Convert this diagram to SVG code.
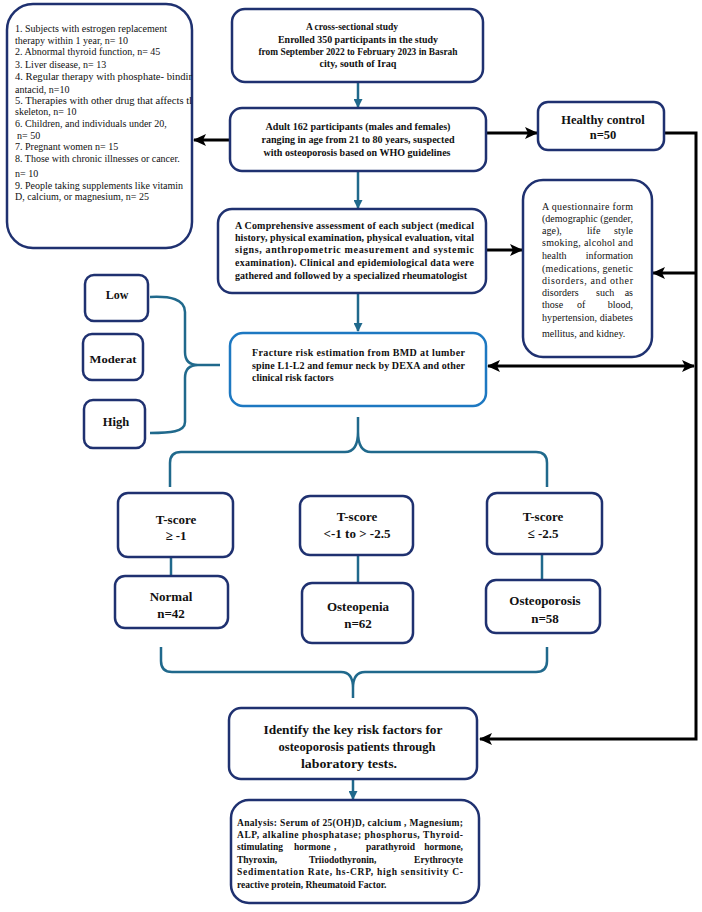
<svg xmlns="http://www.w3.org/2000/svg" width="702" height="912" viewBox="0 0 702 912">
<defs>
<style>
.box{fill:#fff;stroke:#1f3170;stroke-width:2.5}
.fbox{fill:#fff;stroke:#1d78c1;stroke-width:2.5}
.t{font-family:"Liberation Serif","Times New Roman",serif;fill:#111}
.b{font-weight:bold}
.c{text-anchor:middle}
.e{text-anchor:end}
.s10{font-size:10px}
.s95{font-size:9.5px}
.s13{font-size:13px}
.blk{fill:none;stroke:#000;stroke-width:3}
.teal{fill:none;stroke:#20698c;stroke-width:2.5}
</style>
<marker id="ab" markerUnits="userSpaceOnUse" markerWidth="13" markerHeight="12" refX="12" refY="6" orient="auto-start-reverse" viewBox="0 0 13 12">
<path d="M0,0 L13,6 L0,12 L3,6 z" fill="#000"/>
</marker>
<marker id="at" markerUnits="userSpaceOnUse" markerWidth="9" markerHeight="9" refX="8" refY="4.5" orient="auto" viewBox="0 0 9 9">
<path d="M0,0 L9,4.5 L0,9 z" fill="#20698c"/>
</marker>
</defs>
<rect width="702" height="912" fill="#fff"/>

<g id="connectors">
<line class="teal" x1="358" y1="82" x2="358" y2="107" marker-end="url(#at)"/>
<line class="teal" x1="358" y1="171" x2="358" y2="208" marker-end="url(#at)"/>
<line class="teal" x1="358" y1="293" x2="358" y2="331" marker-end="url(#at)"/>
<line class="teal" x1="353" y1="779" x2="353" y2="799" marker-end="url(#at)"/>
<line class="teal" x1="171" y1="557" x2="171" y2="576"/>
<line class="teal" x1="358" y1="555" x2="358" y2="583"/>
<line class="teal" x1="542" y1="554" x2="542" y2="580"/>
<path class="teal" d="M150,297 C170,296 185,299 185,312 V352 Q185,365 198,365 H220 M198,365 Q185,365 185,378 V422 C185,432 170,433 150,433"/>
<path class="teal" d="M170,487 V463 Q170,452 181,452 H345 Q358,452 358,432 V417 M358,432 Q358,452 371,452 H536 Q547,452 547,463 V487"/>
<path class="teal" d="M161,647 V661 Q161,672 172,672 H341 Q353,672 353,688 V698 M353,688 Q353,672 365,672 H536 Q547,672 547,661 V647"/>
<line class="blk" x1="230" y1="140" x2="194" y2="140" marker-end="url(#ab)"/>
<line class="blk" x1="486" y1="133" x2="537" y2="133" marker-end="url(#ab)"/>
<line class="blk" x1="486" y1="250" x2="522" y2="250" marker-end="url(#ab)"/>
<path class="blk" d="M664,133 H696 V739 H480" marker-end="url(#ab)"/>
<line class="blk" x1="696" y1="273" x2="653" y2="273" marker-end="url(#ab)"/>
<line class="blk" x1="488" y1="366" x2="694" y2="366" marker-start="url(#ab)" marker-end="url(#ab)"/>
</g>

<g id="exclusion">
<rect class="box" x="7" y="4" width="185" height="244" rx="26"/>
<text class="t s10" x="15" y="31.8" textLength="152" lengthAdjust="spacingAndGlyphs">1. Subjects with estrogen replacement</text>
<text class="t s10" x="15" y="43.5">therapy within 1 year, n= 10</text>
<text class="t s10" x="15" y="55.2">2. Abnormal thyroid function, n= 45</text>
<text class="t s10" x="15" y="67.8">3. Liver disease, n= 13</text>
<text class="t s10" x="15" y="80.2" textLength="177" lengthAdjust="spacingAndGlyphs">4. Regular therapy with phosphate- bindir</text>
<text class="t s10" x="15" y="92.8">antacid, n=10</text>
<text class="t s10" x="15" y="103.5" textLength="177" lengthAdjust="spacingAndGlyphs">5. Therapies with other drug that affects tl</text>
<text class="t s10" x="15" y="114.5">skeleton, n= 10</text>
<text class="t s10" x="15" y="126.8">6. Children, and individuals under 20,</text>
<text class="t s10" x="17" y="138.5">n= 50</text>
<text class="t s10" x="15" y="150.2">7. Pregnant women n= 15</text>
<text class="t s10" x="15" y="161.8">8. Those with chronic illnesses or cancer.</text>
<text class="t s10" x="15" y="176.8">n= 10</text>
<text class="t s10" x="15" y="188.5" textLength="168" lengthAdjust="spacingAndGlyphs">9. People taking supplements like vitamin</text>
<text class="t s10" x="15" y="200.2">D, calcium, or magnesium, n= 25</text>
</g>

<g id="study">
<rect class="box" x="232" y="9" width="251" height="73" rx="13"/>
<text class="t b c" x="352" y="30" font-size="9.5">A cross-sectional study</text>
<text class="t b s10 c" x="358" y="42.5" textLength="160" lengthAdjust="spacingAndGlyphs">Enrolled 350 participants in the study</text>
<text class="t b s10 c" x="358" y="55" textLength="199" lengthAdjust="spacingAndGlyphs">from September 2022 to February 2023 in Basrah</text>
<text class="t b s10 c" x="358" y="67" textLength="77" lengthAdjust="spacingAndGlyphs">city, south of Iraq</text>
</g>

<g id="adult">
<rect class="box" x="230" y="108" width="256" height="63" rx="12"/>
<text class="t b s10 c" x="358" y="130" textLength="185" lengthAdjust="spacingAndGlyphs">Adult 162 participants (males and females)</text>
<text class="t b s10 c" x="358" y="143" textLength="193" lengthAdjust="spacingAndGlyphs">ranging in age from 21 to 80 years, suspected</text>
<text class="t b s10 c" x="357" y="155.5" textLength="187" lengthAdjust="spacingAndGlyphs">with osteoporosis based on WHO guidelines</text>
</g>

<g id="healthy">
<rect class="box" x="538" y="102" width="126" height="48" rx="10"/>
<text class="t b c" x="603" y="124" font-size="12.5">Healthy control</text>
<text class="t b c" x="603" y="139" font-size="12.5">n=50</text>
</g>

<g id="assessment">
<rect class="box" x="218" y="209" width="268" height="84" rx="14"/>
<text class="t b s10" x="235" y="228.5" textLength="239" lengthAdjust="spacing">A Comprehensive assessment of each subject (medical</text>
<text class="t b s10" x="235" y="240.5" textLength="239" lengthAdjust="spacing">history, physical examination, physical evaluation, vital</text>
<text class="t b s10" x="235" y="252.5" textLength="239" lengthAdjust="spacing">signs, anthropometric measurement and systemic</text>
<text class="t b s10" x="235" y="265.5" textLength="239" lengthAdjust="spacing">examination). Clinical and epidemiological data were</text>
<text class="t b s10" x="235" y="278.5" textLength="232" lengthAdjust="spacing">gathered and followed by a specialized rheumatologist</text>
</g>

<g id="questionnaire">
<rect class="box" x="523" y="180" width="129" height="177" rx="20"/>
<text class="t s10" x="542" y="209.5" textLength="91" lengthAdjust="spacing">A questionnaire form</text>
<text class="t s10" x="542" y="221.5" textLength="91" lengthAdjust="spacing">(demographic (gender,</text>
<text class="t s10" x="542" y="233.5">age),</text>
<text class="t s10" x="587" y="233.5">life</text>
<text class="t s10 e" x="633" y="233.5">style</text>
<text class="t s10" x="542" y="245.5" textLength="91" lengthAdjust="spacing">smoking, alcohol and</text>
<text class="t s10" x="542" y="258.5">health</text>
<text class="t s10 e" x="633" y="258.5">information</text>
<text class="t s10" x="542" y="271.5" textLength="91" lengthAdjust="spacing">(medications, genetic</text>
<text class="t s10" x="542" y="283.5" textLength="91" lengthAdjust="spacing">disorders, and other</text>
<text class="t s10" x="542" y="295.5">disorders</text>
<text class="t s10" x="596" y="295.5">such</text>
<text class="t s10 e" x="633" y="295.5">as</text>
<text class="t s10" x="542" y="307.5">those</text>
<text class="t s10" x="577" y="307.5">of</text>
<text class="t s10 e" x="633" y="307.5">blood,</text>
<text class="t s10" x="542" y="320.5" textLength="91" lengthAdjust="spacing">hypertension, diabetes</text>
<text class="t s10" x="542" y="336.5">mellitus, and kidney.</text>
</g>

<g id="fracture">
<rect class="fbox" x="230" y="333" width="256" height="73" rx="13"/>
<text class="t b s10" x="252" y="355.5" textLength="213" lengthAdjust="spacing">Fracture risk estimation from BMD at lumber</text>
<text class="t b s10" x="252" y="368.5" textLength="213" lengthAdjust="spacing">spine L1-L2 and femur neck by DEXA and other</text>
<text class="t b s10" x="252" y="380.5">clinical risk factors</text>
</g>

<g id="low">
<rect class="box" x="85" y="275" width="63" height="46" rx="9"/>
<text class="t b c" x="117" y="299" font-size="12">Low</text>
</g>
<g id="moderat">
<rect class="box" x="83" y="334" width="60" height="46" rx="9"/>
<text class="t b c" x="113" y="363" font-size="11" textLength="47" lengthAdjust="spacingAndGlyphs">Moderat</text>
</g>
<g id="high">
<rect class="box" x="84" y="400" width="61" height="48" rx="9"/>
<text class="t b c" x="116" y="426" font-size="12.5">High</text>
</g>

<g id="tscore1">
<rect class="box" x="118" y="493" width="115" height="64" rx="10"/>
<text class="t b s13 c" x="176" y="523.5">T-score</text>
<text class="t b s13 c" x="176" y="539.5">≥ -1</text>
</g>
<g id="tscore2">
<rect class="box" x="300" y="496" width="113" height="59" rx="10"/>
<text class="t b s13 c" x="357" y="520.5">T-score</text>
<text class="t b s13 c" x="357" y="537.5">&lt;-1 to &gt; -2.5</text>
</g>
<g id="tscore3">
<rect class="box" x="487" y="493" width="115" height="61" rx="10"/>
<text class="t b s13 c" x="543" y="520.5">T-score</text>
<text class="t b s13 c" x="543" y="537.5">≤ -2.5</text>
</g>

<g id="normal">
<rect class="box" x="115" y="576" width="113" height="52" rx="10"/>
<text class="t b s13 c" x="171" y="600.5">Normal</text>
<text class="t b s13 c" x="171" y="617.5">n=42</text>
</g>
<g id="osteopenia">
<rect class="box" x="302" y="583" width="111" height="60" rx="10"/>
<text class="t b s13 c" x="358" y="610.5">Osteopenia</text>
<text class="t b s13 c" x="358" y="627.5">n=62</text>
</g>
<g id="osteoporosis">
<rect class="box" x="486" y="580" width="114" height="53" rx="10"/>
<text class="t b s13 c" x="545" y="604.5">Osteoporosis</text>
<text class="t b s13 c" x="545" y="622.5">n=58</text>
</g>

<g id="identify">
<rect class="box" x="229" y="708" width="248" height="71" rx="12"/>
<text class="t b c" x="353" y="733.5" font-size="13.5" textLength="179" lengthAdjust="spacingAndGlyphs">Identify the key risk factors for</text>
<text class="t b c" x="357" y="750.5" font-size="13.5" textLength="157" lengthAdjust="spacingAndGlyphs">osteoporosis patients through</text>
<text class="t b c" x="349" y="767.5" font-size="13.5" textLength="96" lengthAdjust="spacingAndGlyphs">laboratory tests.</text>
</g>

<g id="analysis">
<rect class="box" x="231" y="800" width="248" height="103" rx="18"/>
<text class="t b s95" x="237" y="826" textLength="226" lengthAdjust="spacing">Analysis: Serum of 25(OH)D, calcium , Magnesium;</text>
<text class="t b s95" x="237" y="838" textLength="226" lengthAdjust="spacing">ALP, alkaline phosphatase; phosphorus, Thyroid-</text>
<text class="t b s95" x="237" y="850">stimulating</text>
<text class="t b s95" x="294" y="850">hormone</text>
<text class="t b s95" x="334" y="850">,</text>
<text class="t b s95" x="366" y="850">parathyroid</text>
<text class="t b s95 e" x="463" y="850">hormone,</text>
<text class="t b s95" x="237" y="862.5">Thyroxin,</text>
<text class="t b s95" x="309" y="862.5">Triiodothyronin,</text>
<text class="t b s95 e" x="463" y="862.5">Erythrocyte</text>
<text class="t b s95" x="237" y="875" textLength="226" lengthAdjust="spacing">Sedimentation Rate, hs-CRP, high sensitivity C-</text>
<text class="t b s95" x="237" y="887.5">reactive protein, Rheumatoid Factor.</text>
</g>
</svg>
